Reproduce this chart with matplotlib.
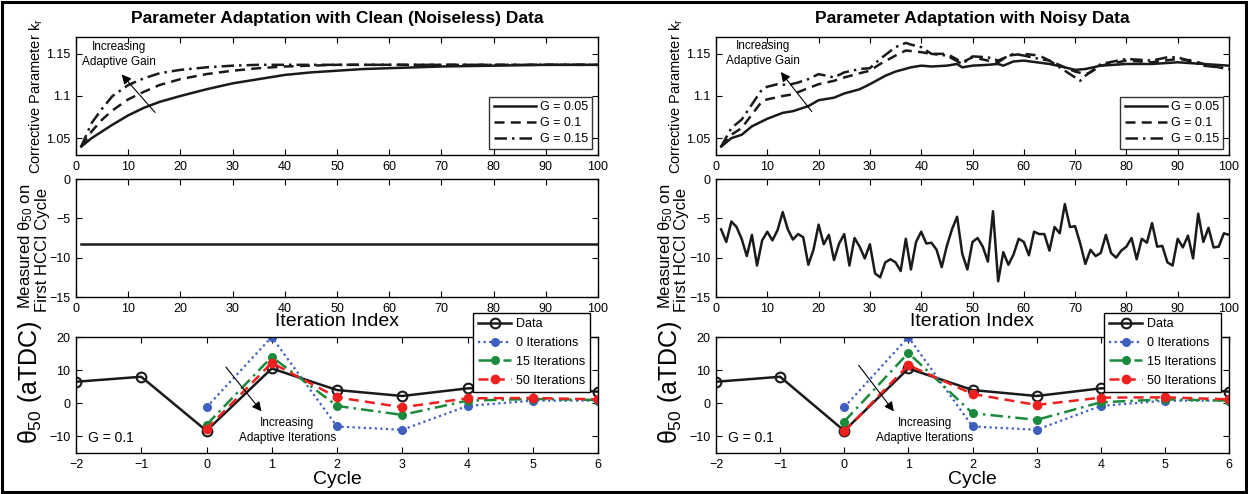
import matplotlib
matplotlib.use("Agg")
import matplotlib.pyplot as plt
from matplotlib import font_manager
from matplotlib.patches import Rectangle

# ---------------- data ----------------
iters = list(range(1, 101))

# Clean data: corrective parameter (values read at selected iterations)
clean_x = [1, 3, 5, 7, 10, 13, 16, 20, 25, 30, 35, 40, 45, 50, 55, 60, 70, 80, 90, 100]
clean_g005 = [1.040, 1.050, 1.058, 1.066, 1.077, 1.086, 1.093, 1.100, 1.108, 1.115,
              1.120, 1.125, 1.128, 1.130, 1.132, 1.133, 1.135, 1.136, 1.137, 1.137]
clean_g010 = [1.040, 1.058, 1.072, 1.083, 1.096, 1.105, 1.113, 1.120, 1.126, 1.130,
              1.133, 1.135, 1.136, 1.137, 1.137, 1.137, 1.137, 1.137, 1.137, 1.137]
clean_g015 = [1.040, 1.068, 1.085, 1.100, 1.113, 1.121, 1.127, 1.131, 1.134, 1.136,
              1.137, 1.137, 1.137, 1.137, 1.137, 1.137, 1.137, 1.137, 1.137, 1.137]

# Noisy data: corrective parameter
noisy_x_g005 = [1, 3, 5, 7, 10, 13, 15, 18, 20, 23, 25, 28, 30, 33, 35, 38, 40, 42, 45, 47,
                48, 50, 53, 55, 56, 58, 60, 65, 68, 70, 72, 75, 80, 85, 90, 95, 100]
noisy_g005 = [1.040, 1.050, 1.054, 1.064, 1.073, 1.080, 1.082, 1.088, 1.095, 1.098, 1.103,
              1.108, 1.114, 1.124, 1.129, 1.134, 1.136, 1.135, 1.136, 1.138,
              1.134, 1.136, 1.137, 1.138, 1.136, 1.141, 1.142, 1.138, 1.134, 1.131, 1.132,
              1.136, 1.138, 1.138, 1.140, 1.138, 1.136]
noisy_x_g010 = [1, 3, 5, 7, 9, 10, 13, 15, 17, 20, 23, 25, 28, 30, 32, 35, 37, 40, 42, 45,
                48, 50, 53, 55, 57, 60, 63, 65, 68, 70, 72, 73, 75, 80, 85, 90, 93, 95, 98, 100]
noisy_g010 = [1.040, 1.054, 1.062, 1.078, 1.094, 1.096, 1.100, 1.102, 1.107, 1.114, 1.118,
              1.122, 1.127, 1.130, 1.138, 1.148, 1.154, 1.152, 1.150, 1.150,
              1.140, 1.146, 1.142, 1.140, 1.148, 1.150, 1.148, 1.142, 1.134, 1.129, 1.126,
              1.128, 1.136, 1.142, 1.140, 1.144, 1.142, 1.138, 1.134, 1.132]
noisy_x_g015 = [1, 3, 5, 7, 9, 10, 12, 14, 16, 18, 20, 23, 25, 28, 30, 32, 35, 37, 38, 40,
                42, 45, 48, 50, 53, 55, 58, 60, 63, 65, 68, 70, 71, 72, 75, 80, 85, 88, 90,
                93, 95, 98, 100]
noisy_g015 = [1.040, 1.062, 1.072, 1.090, 1.108, 1.111, 1.114, 1.113, 1.116, 1.120, 1.126,
              1.122, 1.128, 1.132, 1.133, 1.144, 1.158, 1.163, 1.161, 1.158,
              1.150, 1.148, 1.138, 1.147, 1.146, 1.142, 1.150, 1.148, 1.144, 1.142,
              1.130, 1.122, 1.118, 1.124, 1.138, 1.144, 1.142, 1.146, 1.146,
              1.140, 1.136, 1.134, 1.132]

# Measured theta50 on first HCCI cycle
clean_theta = [-8.3] * 100
noisy_theta = [-6.4, -8.0, -5.4, -6.1, -7.6, -9.8, -7.1, -11.0, -7.8, -6.7,
               -7.8, -6.5, -4.2, -6.4, -7.7, -7.0, -7.4, -10.9, -9.0, -5.8,
               -8.3, -7.1, -10.3, -8.2, -7.0, -11.0, -7.5, -8.6, -10.1, -8.3,
               -12.0, -12.5, -10.6, -10.2, -10.6, -11.7, -7.6, -11.5, -8.0, -6.7,
               -8.2, -8.1, -9.0, -11.2, -8.5, -6.4, -4.8, -9.5, -11.5, -8.0,
               -7.5, -8.6, -10.5, -4.1, -13.0, -9.3, -10.9, -9.6, -7.6, -8.0,
               -9.7, -6.7, -7.0, -7.0, -9.1, -6.1, -6.9, -3.2, -6.1, -6.0,
               -8.2, -10.8, -9.0, -9.8, -9.4, -7.1, -9.4, -10.0, -9.1, -8.6,
               -7.5, -10.2, -7.6, -8.1, -5.6, -8.6, -8.5, -10.6, -11.0, -7.6,
               -8.7, -7.2, -10.1, -4.4, -8.0, -6.2, -8.7, -8.6, -6.9, -7.1]

# Cycle-by-cycle theta50
cycles = [-2, -1, 0, 1, 2, 3, 4, 5, 6]
pred_cycles = [0, 1, 2, 3, 4, 5, 6]
data_theta = [6.5, 8.0, -8.3, 10.5, 4.0, 2.2, 4.5, 5.0, 3.5]
clean_it0 = [-1.2, 20.0, -7.0, -8.0, -0.8, 0.8, 0.8]
clean_it15 = [-6.5, 14.0, -0.8, -3.5, 0.8, 1.3, 1.0]
clean_it50 = [-7.8, 12.2, 1.8, -1.2, 1.5, 1.6, 1.2]
noisy_it0 = [-1.2, 20.0, -7.0, -8.0, -0.8, 0.8, 0.8]
noisy_it15 = [-5.5, 15.2, -3.0, -5.0, 0.3, 1.2, 0.8]
noisy_it50 = [-8.5, 11.5, 2.8, -0.5, 1.7, 1.8, 1.2]

legend_G = ["G = 0.05", "G = 0.1", "G = 0.15"]
legend_cyc = ["Data", "0 Iterations", "15 Iterations", "50 Iterations"]

# ---------------- style ----------------
def pick_font(names):
    for n in names:
        try:
            font_manager.findfont(n, fallback_to_default=False)
            return n
        except Exception:
            pass
    return "DejaVu Sans"

BASE = pick_font(["Liberation Sans", "Arial"])
plt.rcParams["font.family"] = [BASE, "DejaVu Sans"]
plt.rcParams["mathtext.fontset"] = "custom"
plt.rcParams["mathtext.rm"] = BASE
plt.rcParams["mathtext.it"] = BASE
plt.rcParams["axes.linewidth"] = 1.0

W, H = 1248, 494
fig = plt.figure(figsize=(W / 100, H / 100), dpi=100)
fig.patch.set_facecolor("white")


def rect(l, t, r, b):
    return [l / W, 1 - b / H, (r - l) / W, (b - t) / H]


def style(ax):
    ax.tick_params(direction="in", length=4, width=0.8, top=True, right=True,
                   labelsize=9, pad=4)
    for s in ax.spines.values():
        s.set_linewidth(1.0)


BLUE = "#3f5fbf"
GREEN = "#1b8a3c"
RED = "#ee2020"

panels = [
    dict(l=76, r=598, title="Parameter Adaptation with Clean (Noiseless) Data",
         k=[(clean_x, clean_g005), (clean_x, clean_g010), (clean_x, clean_g015)],
         theta=clean_theta, it=(clean_it0, clean_it15, clean_it50),
         gain_text=(8.2, 1.149), gain_arrow=((15.5, 1.078), (8.4, 1.128)),
         iter_arrow=((0.27, 11.6), (0.87, -3.1)), iter_text=(1.24, -8.3)),
    dict(l=716, r=1229, title="Parameter Adaptation with Noisy Data",
         k=[(noisy_x_g005, noisy_g005), (noisy_x_g010, noisy_g010), (noisy_x_g015, noisy_g015)],
         theta=noisy_theta, it=(noisy_it0, noisy_it15, noisy_it50),
         gain_text=(9.2, 1.150), gain_arrow=((19.0, 1.079), (12.3, 1.131)),
         iter_arrow=((0.2, 12.1), (0.8, -3.1)), iter_text=(1.26, -8.3)),
]

for p in panels:
    l, r = p["l"], p["r"]
    # ---- top: corrective parameter ----
    ax1 = fig.add_axes(rect(l, 37, r, 155))
    styles = ["-", (0, (4, 2.5)), (0, (5, 2, 1, 2))]
    for (xs, ys), ls, lab in zip(p["k"], styles, legend_G):
        ax1.plot(xs, ys, color="#1a1a1a", lw=1.8, ls=ls, label=lab)
    ax1.set_xlim(0, 100)
    ax1.set_ylim(1.03, 1.17)
    ax1.set_xticks(range(0, 101, 10))
    ax1.set_yticks([1.05, 1.1, 1.15])
    ax1.set_yticklabels(["1.05", "1.1", "1.15"])
    style(ax1)
    leg = ax1.legend(loc="lower right", fontsize=9, frameon=True, fancybox=False,
                     edgecolor="black", handlelength=3.4, borderaxespad=0.45,
                     labelspacing=0.3, handletextpad=0.3, borderpad=0.35)
    leg.get_frame().set_linewidth(1.0)
    ax1.set_title(p["title"], fontsize=12.5, fontweight="bold", pad=10)
    ax1.text(p["gain_text"][0], p["gain_text"][1], "Increasing\nAdaptive Gain",
             fontsize=8.5, ha="center", va="center", linespacing=1.35)
    ax1.annotate("", xy=p["gain_arrow"][1], xytext=p["gain_arrow"][0],
                 arrowprops=dict(arrowstyle="-|>", color="black", lw=0.8,
                                 mutation_scale=14))
    fig.text((l - 40) / W, 1 - 96 / H, "Corrective Parameter k$_\\mathregular{r}$",
             rotation=90, ha="center", va="center", fontsize=10.5)

    # ---- middle: measured theta50 ----
    ax2 = fig.add_axes(rect(l, 179, r, 297))
    ax2.plot(iters, p["theta"], color="#1a1a1a", lw=1.8)
    ax2.set_xlim(0, 100)
    ax2.set_ylim(-15, 0)
    ax2.set_xticks(range(0, 101, 10))
    ax2.set_yticks([-15, -10, -5, 0])
    ax2.set_yticklabels(["\u221215", "\u221210", "\u22125", "0"])
    style(ax2)
    ax2.set_xlabel("Iteration Index", fontsize=14, labelpad=-1)
    fig.text((l - 50) / W, 1 - 246 / H, "Measured $\\theta_{50}$ on",
             rotation=90, ha="center", va="center", fontsize=12)
    fig.text((l - 34) / W, 1 - 250 / H, "First HCCI Cycle",
             rotation=90, ha="center", va="center", fontsize=12)

    # ---- bottom: cycle data ----
    ax3 = fig.add_axes(rect(l, 337, r, 453))
    h0, = ax3.plot(cycles, data_theta, color="#1a1a1a", lw=1.8, marker="o",
                   mfc="none", mec="#1a1a1a", mew=1.5, ms=7, label=legend_cyc[0])
    it0, it15, it50 = p["it"]
    h1, = ax3.plot(pred_cycles, it0, color=BLUE, lw=1.6, ls=(0, (1, 1.5)), marker="o",
                   ms=5.5, mfc=BLUE, mec=BLUE, label=legend_cyc[1])
    h2, = ax3.plot(pred_cycles, it15, color=GREEN, lw=1.8, ls=(0, (5, 2, 1, 2)), marker="o",
                   ms=5.5, mfc=GREEN, mec=GREEN, label=legend_cyc[2])
    h3, = ax3.plot(pred_cycles, it50, color=RED, lw=1.8, ls=(0, (4, 2.5)), marker="o",
                   ms=6, mfc=RED, mec=RED, label=legend_cyc[3])
    ax3.set_xlim(-2, 6)
    ax3.set_ylim(-15, 20)
    ax3.set_xticks(cycles)
    ax3.set_xticklabels(["\u22122", "\u22121", "0", "1", "2", "3", "4", "5", "6"])
    ax3.set_yticks([-10, 0, 10, 20])
    ax3.set_yticklabels(["\u221210", "0", "10", "20"])
    style(ax3)
    ax3.set_xlabel("Cycle", fontsize=14, labelpad=0)
    ax_w = r - l
    leg3 = ax3.legend(handles=[h0, h1, h2, h3], loc="upper right",
                      bbox_to_anchor=((r - 8 - l) / ax_w, (453 - 313) / 116),
                      fontsize=9, frameon=True, fancybox=False, edgecolor="black",
                      handlelength=2.6, borderaxespad=0, labelspacing=0.55,
                      handletextpad=0.4, borderpad=0.4, framealpha=1)
    leg3.get_frame().set_linewidth(1.0)
    ax3.text(-1.82, -10.5, "G = 0.1", fontsize=10, ha="left", va="center")
    ax3.annotate("", xy=p["iter_arrow"][1], xytext=p["iter_arrow"][0],
                 arrowprops=dict(arrowstyle="-|>", color="black", lw=0.8,
                                 mutation_scale=14))
    ax3.text(p["iter_text"][0], p["iter_text"][1], "Increasing\nAdaptive Iterations",
             fontsize=8.5, ha="center", va="center", linespacing=1.3)
    fig.text((l - 46) / W, 1 - 382 / H, "$\\theta_{50}$ (aTDC)", rotation=90,
             ha="center", va="center", fontsize=18)

# outer border
fig.patches.append(Rectangle((2 / W, 2 / H), (W - 4) / W, (H - 4) / H,
                             transform=fig.transFigure, fill=False,
                             edgecolor="black", lw=2.2))

fig.savefig("out.png", dpi=100)
